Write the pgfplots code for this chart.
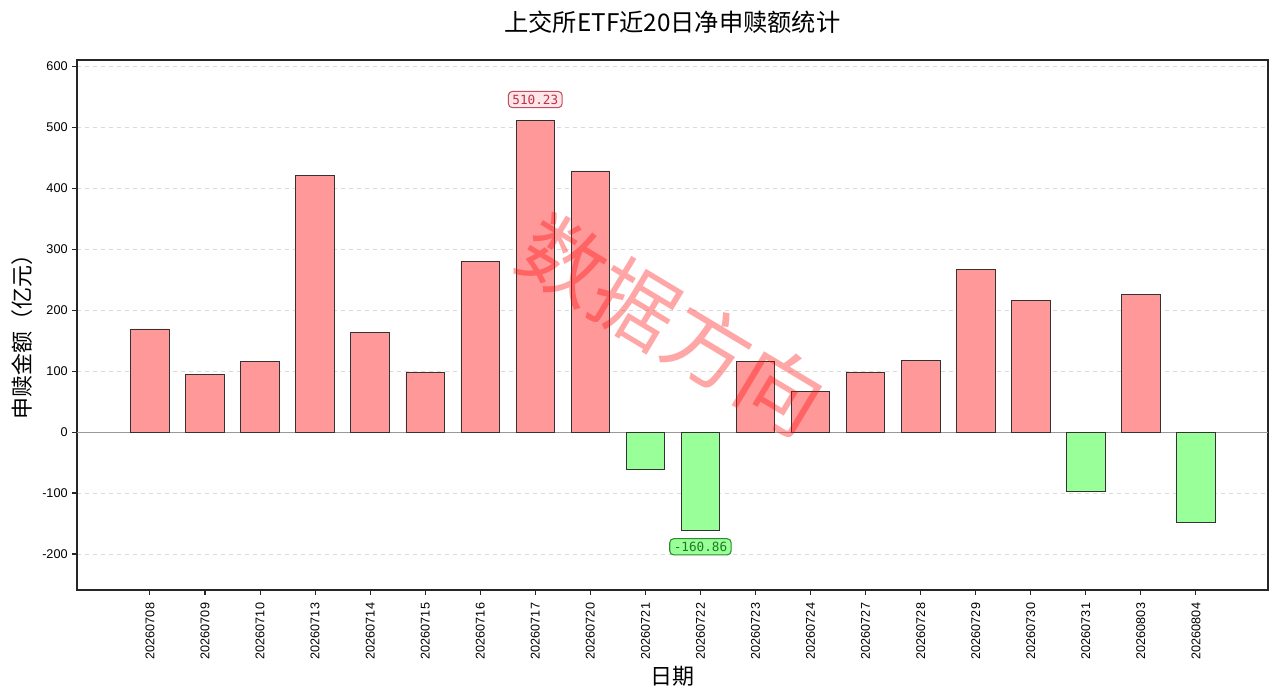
\documentclass[border=0pt]{standalone}
\usepackage{fontspec}
\setmainfont{Noto Sans CJK SC}
\newfontfamily\arial{Liberation Sans}
\newfontfamily\monofont{DejaVu Sans Mono}
\usepackage{pgfplots}
\pgfplotsset{compat=1.18}
\definecolor{barpink}{HTML}{FF9999}
\definecolor{bargreen}{HTML}{99FF99}
\definecolor{annred}{HTML}{C0304A}
\definecolor{annredbd}{HTML}{C05060}
\definecolor{annredbg}{HTML}{FFE6E8}
\definecolor{anngreen}{HTML}{1E7A1E}
\definecolor{anngreenbd}{HTML}{2E8B2E}
\begin{document}
\begin{tikzpicture}[x=1pt,y=1pt]
\begin{axis}[
  at={(0pt,0pt)}, anchor=south west,
  scale only axis, width=893.25pt, height=397.5pt,
  xmin=-1.325, xmax=20.31, ymin=-259, ymax=610,
  xtick={0,...,19},
  xticklabels={20260708,20260709,20260710,20260713,20260714,20260715,20260716,20260717,20260720,20260721,20260722,20260723,20260724,20260727,20260728,20260729,20260730,20260731,20260803,20260804},
  x tick label style={rotate=90, anchor=east, inner xsep=6pt, font=\arial\fontsize{9.5}{10}\selectfont},
  ytick={-200,-100,...,600},
  y tick label style={font=\arial\fontsize{9.5}{10}\selectfont},
  /pgf/number format/assume math mode=true,
  tick align=outside, tick pos=left, major tick length=3.5pt,
  tick style={black!85, line width=0.8pt},
  ymajorgrids, major grid style={dashed, black!15, line width=0.6pt},
  axis line style={black!85, line width=0.9pt},
  clip=false,
]
\draw[black!40, line width=0.8pt] (axis cs:-1.325,0) -- (axis cs:20.31,0);
\addplot[ybar, bar width=0.7, bar shift=0pt, fill=barpink, draw=black!80, line width=0.6pt]
  coordinates {(0,169) (1,95) (2,116) (3,420) (4,164) (5,97) (6,279) (7,510.23) (8,428)
               (11,116) (12,66) (13,98) (14,118) (15,266) (16,216) (18,225)};
\addplot[ybar, bar width=0.7, bar shift=0pt, fill=bargreen, draw=black!80, line width=0.6pt]
  coordinates {(9,-61) (10,-160.86) (17,-97) (19,-148)};
\node[anchor=south, yshift=9.5pt, draw=annredbd, fill=annredbg, rounded corners=3pt, line width=0.8pt,
      inner xsep=3pt, inner ysep=2.5pt, text=annred, font=\monofont\fontsize{9.5}{10}\selectfont]
  at (axis cs:7,510.23) {510.23};
\node[anchor=north, yshift=-6pt, draw=anngreenbd, fill=bargreen, rounded corners=3pt, line width=0.8pt,
      inner xsep=3pt, inner ysep=2.5pt, text=anngreen, font=\monofont\fontsize{9.5}{10}\selectfont]
  at (axis cs:10,-160.86) {-160.86};
\node[rotate=-31, text=red, opacity=0.35, font=\fontsize{63}{64}\selectfont]
  at (rel axis cs:0.5,0.5) {数据方向};
\end{axis}
\node[font=\fontsize{18.2}{20}\selectfont] at (446.6,426) {上交所ETF近20日净申赎额统计};
\node[font=\fontsize{16.5}{18}\selectfont] at (446.6,-65) {日期};
\node[font=\fontsize{16.5}{18}\selectfont, rotate=90] at (-41,194) {申赎金额（亿元）};
\pgfresetboundingbox
\path[use as bounding box] (-57.75,-79.5) rectangle (902.25,442.5);
\end{tikzpicture}
\end{document}
